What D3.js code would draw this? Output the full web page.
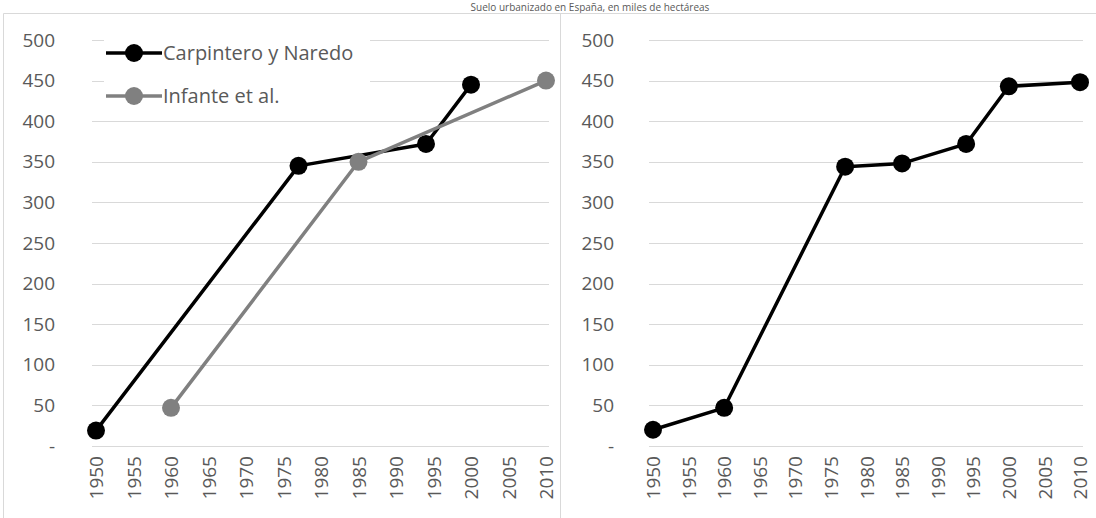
<!DOCTYPE html>
<html>
<head>
<meta charset="utf-8">
<script src="https://cdn.jsdelivr.net/npm/d3@7"></script>
<style>
    body {margin: 0; background: #fff;}
    svg text {font-family: "Open Sans", "Noto Sans", sans-serif; fill: #595959;}
    .grid line {stroke: #d9d9d9; stroke-width: 1;}
    .frame {stroke: #d9d9d9; stroke-width: 1; fill: none;}
</style>
</head>
<body>
<svg id="chart" width="1096" height="518"></svg>
<script>

var titleText = "Suelo urbanizado en España, en miles de hectáreas";

var tickYears = [1950, 1955, 1960, 1965, 1970, 1975, 1980, 1985, 1990, 1995, 2000, 2005, 2010];
var tickValues = [0, 50, 100, 150, 200, 250, 300, 350, 400, 450, 500];

var carpName = "Carpintero y Naredo";
var carpYears = [1950, 1977, 1994, 2000];
var carpValues = [19, 345, 372, 445];

var infName = "Infante et al.";
var infYears = [1960, 1985, 2010];
var infValues = [47, 350, 450];

var combYears = [1950, 1960, 1977, 1985, 1994, 2000, 2010];
var combValues = [20, 47, 344, 348, 372, 443, 448];

var svg = d3.select("#chart");

var yFormat = function(v) {return v === 0 ? "-" : d3.format("d")(v)};

svg.append("text")
    .attr("x", 590)
    .attr("y", 11)
    .attr("text-anchor", "middle")
    .style("font-size", "10px")
    .text(titleText);

// panel frames
svg.append("path")
    .attr("class", "frame")
    .attr("d", "M3.5,530V13.5H1100M560.5,13.5V530");

function panel(cfg) {
    var x = d3.scaleLinear().domain([1950, 2010]).range(cfg.xr);
    var y = d3.scaleLinear().domain([0, 500]).range([446, 40]);

    var g = svg.append("g");

    var grid = g.append("g").attr("class", "grid");
    grid.selectAll("line")
        .data(tickValues)
        .enter()
        .append("line")
        .attr("x1", cfg.xr[0] - 4)
        .attr("x2", cfg.xr[1] + 3)
        .attr("y1", function(d) {return Math.round(y(d)) + 0.5})
        .attr("y2", function(d) {return Math.round(y(d)) + 0.5});

    var yAxis = d3.axisLeft(y)
        .tickValues(tickValues)
        .tickFormat(yFormat)
        .tickSize(0)
        .tickPadding(0);

    g.append("g")
        .attr("transform", "translate(" + cfg.labelX + ",0)")
        .call(yAxis)
        .call(function(a) {a.select(".domain").remove()})
        .selectAll("text")
        .style("font-size", "19px")
        .attr("fill", "#595959");

    var xAxis = d3.axisBottom(x)
        .tickValues(tickYears)
        .tickFormat(d3.format("d"))
        .tickSize(0);

    g.append("g")
        .attr("transform", "translate(0,452)")
        .call(xAxis)
        .call(function(a) {a.select(".domain").remove()})
        .selectAll("text")
        .style("font-size", "19px")
        .attr("fill", "#595959")
        .attr("text-anchor", "end")
        .attr("transform", "rotate(-90)")
        .attr("x", -4)
        .attr("y", 0)
        .attr("dy", "0.35em");

    var line = d3.line()
        .x(function(d) {return x(d[0])})
        .y(function(d) {return y(d[1])});

    cfg.series.forEach(function(s) {
        var pts = d3.zip(s.years, s.values);
        g.append("path")
            .datum(pts)
            .attr("fill", "none")
            .attr("stroke", s.color)
            .attr("stroke-width", 3.5)
            .attr("stroke-linejoin", "round")
            .attr("d", line);
        g.selectAll(null)
            .data(pts)
            .enter()
            .append("circle")
            .attr("cx", function(d) {return x(d[0])})
            .attr("cy", function(d) {return y(d[1])})
            .attr("r", 9)
            .attr("fill", s.color);
    });

    return g;
}

var left = panel({
    xr: [96, 546],
    labelX: 55,
    series: [
        {years: carpYears, values: carpValues, color: "#000"},
        {years: infYears, values: infValues, color: "#808080"}
    ]
});

panel({
    xr: [653, 1080],
    labelX: 614,
    series: [
        {years: combYears, values: combValues, color: "#000"}
    ]
});

// legend
var legend = [
    {name: carpName, color: "#000"},
    {name: infName, color: "#808080"}
];

var lg = left.append("g")
    .attr("transform", "translate(106,53)");
lg.append("rect")
    .attr("x", -2).attr("y", -16)
    .attr("width", 266).attr("height", 74)
    .attr("fill", "#fff");

var item = lg.selectAll("g.item")
    .data(legend)
    .enter()
    .append("g")
    .attr("class", "item")
    .attr("transform", function(d, i) {return "translate(0," + (i * 43) + ")"});

item.append("line")
    .attr("x1", 0).attr("x2", 56)
    .attr("stroke", function(d) {return d.color})
    .attr("stroke-width", 3.5);
item.append("circle")
    .attr("cx", 28).attr("r", 9)
    .attr("fill", function(d) {return d.color});
item.append("text")
    .attr("x", 57)
    .attr("dy", "0.35em")
    .style("font-size", "20px")
    .text(function(d) {return d.name});

</script>
</body>
</html>
